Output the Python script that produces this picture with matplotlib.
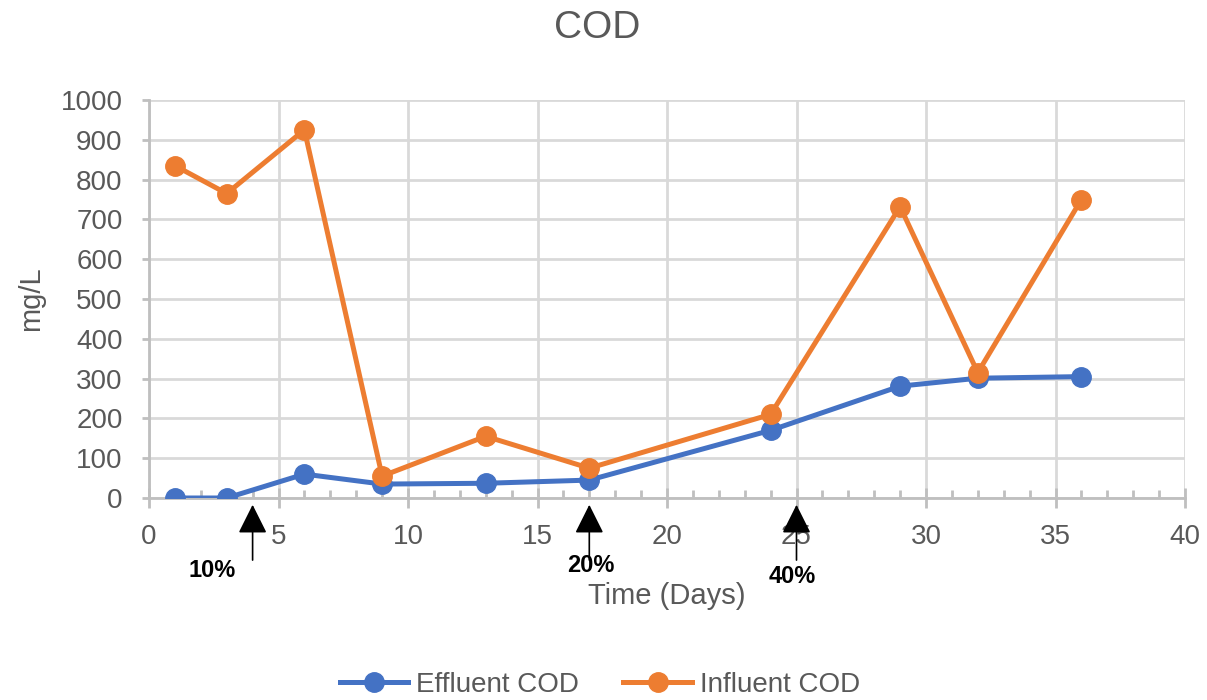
import matplotlib
matplotlib.use("Agg")
import matplotlib.pyplot as plt
from matplotlib.ticker import MultipleLocator

# COD measurements over the run
days = [1, 3, 6, 9, 13, 17, 24, 29, 32, 36]
effluent_cod = [0, 0, 60, 35, 37, 45, 170, 281, 301, 305]
influent_cod = [835, 765, 925, 55, 155, 75, 210, 732, 315, 750]

# loading steps marked under the time axis
step_days = [4, 17, 25]
step_labels = ["10%", "20%", "40%"]
step_label_x = [2.45, 17.05, 24.85]
step_label_y = [-0.181, -0.170, -0.198]

BLUE = "#4472C4"
ORANGE = "#ED7D31"
GRAY = "#595959"
GRID = "#D9D9D9"

plt.rcParams["font.family"] = ["Liberation Sans", "DejaVu Sans"]

fig = plt.figure(figsize=(12.07, 7.0), dpi=100)
ax = fig.add_axes([149 / 1207, 1 - 498 / 700, 1036 / 1207, 398 / 700])

ax.plot(days, effluent_cod, color=BLUE, lw=3.6, marker="o", ms=14,
        label="Effluent COD", zorder=3)
ax.plot(days, influent_cod, color=ORANGE, lw=3.6, marker="o", ms=14,
        label="Influent COD", zorder=4)

ax.set_xlim(0, 40)
ax.set_ylim(0, 1000)
ax.xaxis.set_major_locator(MultipleLocator(5))
ax.xaxis.set_minor_locator(MultipleLocator(1))
ax.yaxis.set_major_locator(MultipleLocator(100))

ax.grid(True, which="major", color=GRID, lw=2)
ax.set_axisbelow(True)
for side in ["top", "right"]:
    ax.spines[side].set_visible(False)
for side in ["left", "bottom"]:
    ax.spines[side].set_color("#BFBFBF")
    ax.spines[side].set_linewidth(2)

ax.tick_params(axis="x", which="major", direction="inout", length=14,
               width=2, color="#BFBFBF", pad=12, labelsize=20, labelcolor=GRAY)
ax.tick_params(axis="x", which="minor", direction="in", length=6,
               width=2, color="#BFBFBF")
ax.tick_params(axis="y", which="major", direction="out", length=5,
               width=2, color="#BFBFBF", pad=14, labelsize=20, labelcolor=GRAY)

ax.set_xlabel("Time (Days)", fontsize=21, color=GRAY)
ax.xaxis.set_label_coords(0.5, -0.21)
ax.set_ylabel("mg/L", fontsize=21, color=GRAY)
ax.yaxis.set_label_coords(-0.1, 0.5)

fig.text(0.495, 1 - 28 / 700, "COD", ha="center", va="center",
         fontsize=28, color=GRAY)

xa = ax.get_xaxis_transform()
for d, lab, lx, ly in zip(step_days, step_labels, step_label_x, step_label_y):
    ax.annotate("", xy=(d, -0.017), xytext=(d, -0.156), xycoords=xa,
                textcoords=xa, annotation_clip=False,
                arrowprops=dict(arrowstyle="-|>,head_length=1.0,head_width=0.5",
                                mutation_scale=18, color="black", lw=1.2,
                                shrinkA=0, shrinkB=0))
    ax.text(lx, ly, lab, transform=xa, ha="center", va="center",
            fontsize=17, fontweight="bold", color="black", zorder=6)

fig.legend(loc="center", bbox_to_anchor=(0.497, 1 - 685 / 700), ncol=2,
           frameon=False, fontsize=20, handlelength=2.45, handletextpad=0.3,
           columnspacing=1.6, labelcolor=GRAY)

fig.savefig("out.png", dpi=100)
